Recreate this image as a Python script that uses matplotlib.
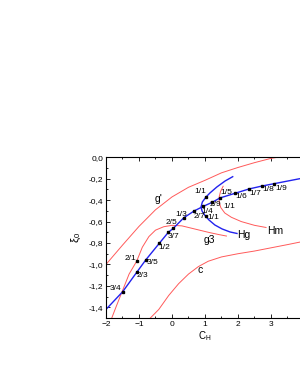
# coding=utf-8
"""
Diagrama C_H - xi_0 con curvas g', g3, c, Hg, Hm
"""

import matplotlib
matplotlib.use('Agg')
import matplotlib.pyplot as plt
from matplotlib.ticker import MultipleLocator, FixedLocator, FuncFormatter

plt.rcParams['font.family'] = ['Liberation Sans', 'DejaVu Sans']
plt.rcParams['mathtext.fontset'] = 'custom'
plt.rcParams['mathtext.rm'] = 'Liberation Sans'
plt.rcParams['mathtext.it'] = 'Liberation Sans:italic'

# Curva principal (azul)
main_x = [-2.0, -1.49, -1.07, -0.79, -0.385, -0.11, 0.04, 0.36, 0.67, 0.94,
          1.22, 1.45, 1.91, 2.33, 2.73, 3.10, 3.9]
main_y = [-1.42, -1.253, -1.074, -0.956, -0.803, -0.700, -0.663, -0.564,
          -0.501, -0.459, -0.420, -0.380, -0.336, -0.296, -0.268, -0.246, -0.198]

# Curva Hg (azul)
hg_x = [1.84, 1.61, 1.36, 1.15, 1.03, 0.92, 0.88, 0.91, 1.00, 1.12, 1.30,
        1.52, 1.76, 1.97]
hg_y = [-0.181, -0.221, -0.277, -0.333, -0.371, -0.417, -0.464, -0.501,
        -0.543, -0.585, -0.632, -0.669, -0.697, -0.711]

# Curvas rojas
gp_x = [-2.0, -1.5, -1.0, -0.5, 0.0, 0.5, 1.0, 1.5, 2.0, 2.5, 3.0, 3.3]
gp_y = [-1.0, -0.82, -0.645, -0.49, -0.37, -0.28, -0.215, -0.145, -0.095,
        -0.05, -0.01, 0.005]

g3_x = [-1.85, -1.7, -1.5, -1.3, -1.07, -0.9, -0.7, -0.5, -0.25, 0.0, 0.3,
        0.7, 1.1, 1.4, 1.65]
g3_y = [-1.52, -1.40, -1.245, -1.09, -0.97, -0.84, -0.74, -0.68, -0.648,
        -0.635, -0.64, -0.67, -0.70, -0.72, -0.735]

c_x = [-0.72, -0.4, -0.1, 0.2, 0.5, 0.8, 1.1, 1.5, 2.0, 2.5, 3.0, 3.5, 3.9]
c_y = [-1.52, -1.42, -1.29, -1.18, -1.09, -1.02, -0.97, -0.93, -0.90,
       -0.875, -0.845, -0.815, -0.79]

hm_x = [1.55, 1.47, 1.43, 1.43, 1.48, 1.6, 1.8, 2.1, 2.5, 2.85]
hm_y = [-0.27, -0.32, -0.37, -0.42, -0.47, -0.52, -0.56, -0.60, -0.635, -0.655]

# Puntos marcados
pt_x = [-1.49, -1.07, -0.79, -0.385, -0.11, 0.04, 0.36, 0.67, 0.94, 1.22,
        1.45, 1.91, 2.33, 2.73, 3.10, -1.07, 1.03, 1.03]
pt_y = [-1.253, -1.074, -0.956, -0.803, -0.700, -0.663, -0.564, -0.501,
        -0.459, -0.420, -0.380, -0.336, -0.296, -0.268, -0.246, -0.97,
        -0.371, -0.55]

# Rótulos de los puntos
lab_txt = ['3/4', '2/3', '3/5', '1/2', '3/7', '2/5', '1/3', '2/7', '1/4',
           '2/9', '1/5', '1/6', '1/7', '1/8', '1/9', '2/1', '1/1', '1/1', '1/1']
lab_x = [-1.70, -0.89, -0.59, -0.23, 0.04, -0.01, 0.27, 0.83, 1.06, 1.32,
         1.64, 2.09, 2.52, 2.92, 3.30, -1.27, 0.85, 1.25, 1.75]
lab_y = [-1.22, -1.105, -0.985, -0.845, -0.735, -0.61, -0.53, -0.555, -0.505,
         -0.445, -0.33, -0.37, -0.34, -0.30, -0.287, -0.94, -0.32, -0.56,
         -0.455]

# Rótulos de las curvas
cur_txt = ["g'", 'g3', 'Hg', 'Hm', 'c']
cur_x = [-0.42, 1.12, 2.18, 3.12, 0.85]
cur_y = [-0.39, -0.77, -0.725, -0.69, -1.05]

# Ticks del eje x con rótulo
xticks = [-2, -1, 0, 1, 2, 3]

RED = '#ff5a5a'
BLUE = '#2222ee'

fig = plt.figure(figsize=(3.0, 3.88), dpi=100)
ax = fig.add_axes([0.3533, 0.1804, 0.66, 0.4142])

for xs, ys in [(gp_x, gp_y), (g3_x, g3_y), (c_x, c_y), (hm_x, hm_y)]:
    ax.plot(xs, ys, color=RED, linewidth=0.7)
ax.plot(main_x, main_y, color=BLUE, linewidth=1.0)
ax.plot(hg_x, hg_y, color=BLUE, linewidth=1.0)
ax.plot(pt_x, pt_y, 's', color='black', markersize=2.0, linestyle='none')

for t, x, y in zip(lab_txt, lab_x, lab_y):
    ax.text(x, y, t, fontsize=6, ha='center', va='center')
for t, x, y in zip(cur_txt, cur_x, cur_y):
    ax.text(x, y, t, fontsize=7.5, ha='center', va='center')

ax.set_xlim(-2, 4)
ax.set_ylim(-1.5, 0)
ax.xaxis.set_major_locator(FixedLocator(xticks))
ax.xaxis.set_minor_locator(MultipleLocator(0.5))
ax.yaxis.set_major_locator(MultipleLocator(0.2))
ax.yaxis.set_minor_locator(MultipleLocator(0.1))
ax.yaxis.set_major_formatter(FuncFormatter(lambda v, p: ('%.1f' % v).replace('.', ',').replace('-0,0', '0,0')))
ax.tick_params(which='both', direction='in', top=True, right=True, labelsize=6, width=0.6, pad=2)
ax.tick_params(which='major', length=3)
ax.tick_params(which='minor', length=1.5)
for s in ax.spines.values():
    s.set_linewidth(0.8)

ax.set_xlabel(r'$\mathregular{C_H}$', fontsize=7, labelpad=1)
ax.set_ylabel(r'$\mathregular{\xi_0}$', fontsize=8, rotation=90, labelpad=4)

fig.savefig('out.png', dpi=100)
